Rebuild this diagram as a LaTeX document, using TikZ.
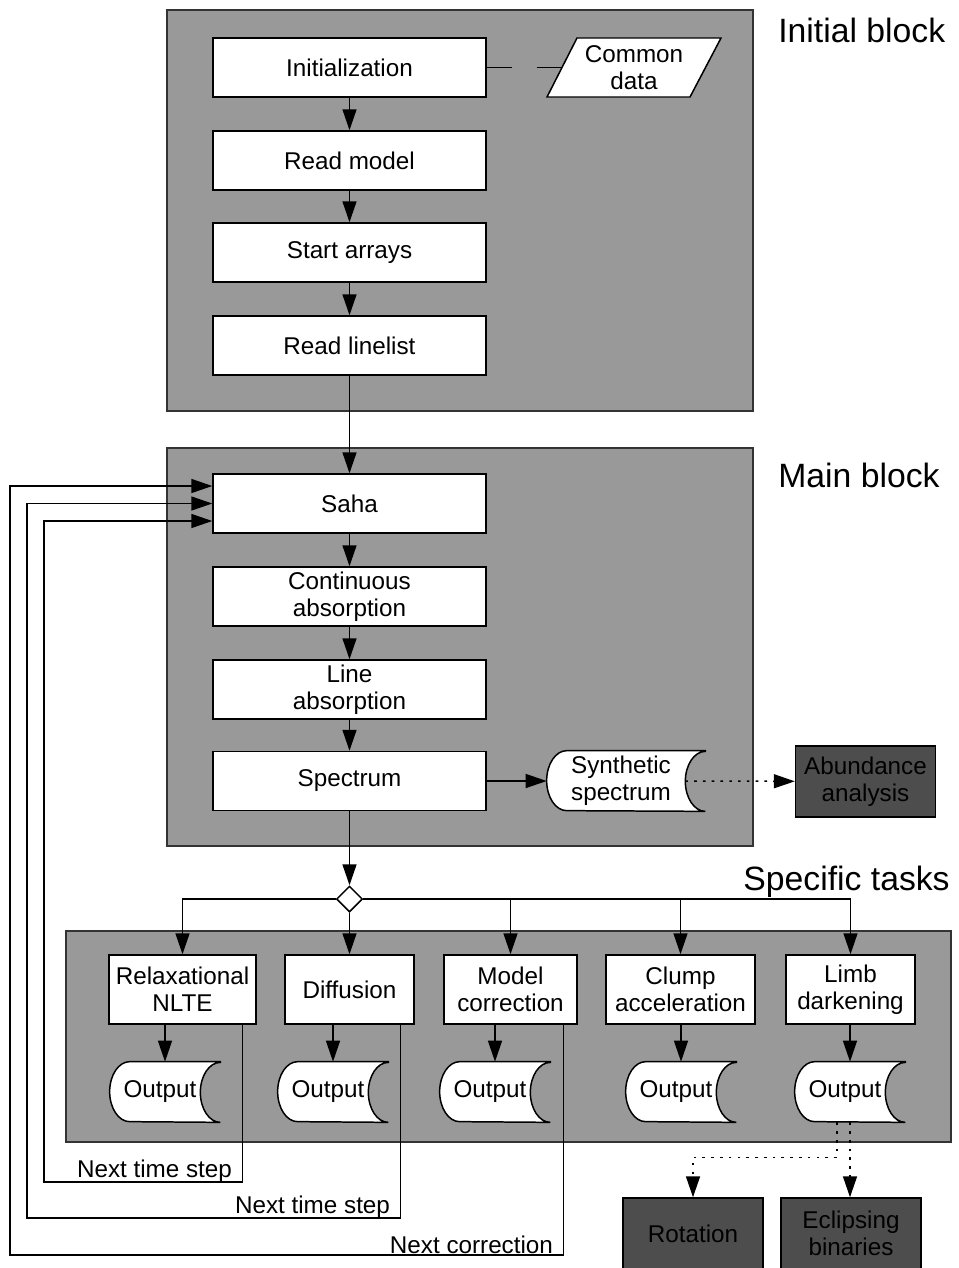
\documentclass[tikz,border=0pt]{standalone}
\usepackage{fontspec}
\setmainfont{Liberation Sans}
\usetikzlibrary{arrows.meta}
\usetikzlibrary{shapes.geometric}
\usetikzlibrary{calc}
\definecolor{blockgray}{HTML}{999999}
\definecolor{darkbox}{HTML}{4D4D4D}
\newcommand{\boxfont}{\fontsize{13.8}{15.4}\selectfont}
\newcommand{\titlefont}{\fontsize{19.2}{22}\selectfont}
\tikzset{
  block/.style = {draw=black!80, fill=blockgray, line width=0.7pt},
  proc/.style = {draw, fill=white, line width=0.85pt, align=center, font=\boxfont,
    minimum width=5.46cm, minimum height=1.18cm, inner sep=0},
  task/.style = {proc, minimum height=1.38cm},
  result/.style = {draw, fill=darkbox, line width=0.85pt, align=center, font=\boxfont,
    minimum width=2.8cm, minimum height=1.42cm, inner sep=0},
  arr/.style = {line width=0.85pt, -{Triangle[length=0.42cm, width=0.28cm]}},
  dotarr/.style = {arr, dash pattern=on 1.5pt off 3.5pt},
  title/.style = {font=\titlefont, inner sep=0},
  note/.style = {font=\boxfont, inner sep=2pt}
}
% stored data symbol: #1 name, #2 centre, #3 width, #4 text
\newcommand{\storenode}[4]{%
  \node[minimum width=#3, minimum height=1.2cm, inner sep=0] (#1) at (#2) {};
  \draw[fill=white, line width=0.85pt] (#1.north east) -- ([xshift=0.4cm]#1.north west)
    arc[start angle=90, end angle=270, x radius=0.4cm, y radius=0.6cm]
    -- (#1.south east)
    arc[start angle=270, end angle=90, x radius=0.4cm, y radius=0.6cm] -- cycle;
  \node[font=\boxfont, align=center, inner sep=0] (#1-text) at ([xshift=-0.1cm]#1.center) {#4};
}

\begin{document}
\begin{tikzpicture}[x=0.02cm, y=0.02cm]
    \useasboundingbox (0,0) rectangle (958,-1268);
    \clip (0,0) rectangle (958,-1268);

    % blocks
    \draw[block] (167,-10) rectangle (753,-411);
    \draw[block] (167,-448) rectangle (753,-846);
    \draw[block] (66,-931) rectangle (951,-1142);
    \node[title, anchor=west] (inittitle) at (778,-30) {Initial block};
    \node[title, anchor=west] (maintitle) at (778,-475) {Main block};
    \node[title, anchor=east] (tasktitle) at (950,-882) {Specific tasks};

    % initial block
    \node[proc] (init) at (349.5,-67.5) {Initialization};
    \node[proc] (readmodel) at (349.5,-160.5) {Read model};
    \node[proc] (startarr) at (349.5,-252.5) {Start arrays};
    \node[proc] (readline) at (349.5,-345.5) {Read linelist};
    \draw[fill=white, line width=0.85pt] (547,-97) -- (577,-38) -- (721,-38) -- (690,-97) -- cycle;
    \node[font=\boxfont, align=center, inner sep=0] (common) at (634,-67.5) {Common\\data};
    \coordinate (commonin) at (562,-67.5);
    \draw[line width=0.85pt, dash pattern=on 0.5cm off 0.5cm] (init) -- (commonin);
    \draw[arr] (init) -- (readmodel);
    \draw[arr] (readmodel) -- (startarr);
    \draw[arr] (startarr) -- (readline);

    % main block
    \node[proc] (saha) at (349.5,-503.5) {Saha};
    \node[proc] (contabs) at (349.5,-596.5) {Continuous\\absorption};
    \node[proc] (lineabs) at (349.5,-689.5) {Line\\absorption};
    \node[proc] (spectrum) at (349.5,-781) {Spectrum};
    \storenode{synth}{626,-781}{3.16cm}{Synthetic\\spectrum}
    \node[result] (abund) at (865.5,-781.5) {Abundance\\analysis};
    \draw[arr] (readline) -- (saha);
    \draw[arr] (saha) -- (contabs);
    \draw[arr] (contabs) -- (lineabs);
    \draw[arr] (lineabs) -- (spectrum);
    \draw[arr] (spectrum) -- (synth);
    \draw[dotarr] ([xshift=-0.4cm]synth.east) -- (abund);

    % specific tasks
    \node[draw, fill=white, diamond, minimum size=0.52cm, inner sep=0, line width=0.85pt] (split) at (349.5,-899) {};
    \node[task, minimum width=2.94cm] (relax) at (182.5,-989.5) {Relaxational\\NLTE};
    \node[task, minimum width=2.58cm] (diffusion) at (349.5,-989.5) {Diffusion};
    \node[task, minimum width=2.66cm] (modelcorr) at (510.5,-989.5) {Model\\correction};
    \node[task, minimum width=2.98cm] (clump) at (680.5,-989.5) {Clump\\acceleration};
    \node[task, minimum width=2.58cm] (limb) at (850.5,-989.5) {Limb\\darkening};
    \draw[arr] (spectrum) -- (split);
    \draw[arr] (split.west) -| (relax.north);
    \draw[arr] (split.south) -- (diffusion.north);
    \draw[arr] (split.east) -| (modelcorr.north);
    \draw[arr] (split.east) -| (clump.north);
    \draw[arr] (split.east) -| (limb.north);

    \foreach \n/\x in {1/165,2/333,3/495,4/681,5/850}{
      \storenode{out\n}{\x,-1092}{2.2cm}{Output}
    }
    \draw[arr] (out1.north |- relax.south) -- (out1.north);
    \draw[arr] (out2.north |- diffusion.south) -- (out2.north);
    \draw[arr] (out3.north |- modelcorr.south) -- (out3.north);
    \draw[arr] (out4.north |- clump.south) -- (out4.north);
    \draw[arr] (out5.north |- limb.south) -- (out5.north);

    % loops back to Saha
    \coordinate (turn1) at (44,-1182);
    \coordinate (turn2) at (27,-1218);
    \coordinate (turn3) at (10,-1255);
    \draw[arr] ([xshift=-0.28cm]relax.south east) |- node[note, pos=0.5, anchor=south east, xshift=-0.13cm, yshift=-0.1cm] {Next time step}
      (turn1) |- ([yshift=-0.35cm]saha.west);
    \draw[arr] ([xshift=-0.28cm]diffusion.south east) |- node[note, pos=0.5, anchor=south east, xshift=-0.13cm, yshift=-0.09cm] {Next time step}
      (turn2) |- (saha.west);
    \draw[arr] ([xshift=-0.28cm]modelcorr.south east) |- node[note, pos=0.5, anchor=south east, xshift=-0.13cm, yshift=-0.05cm] {Next correction}
      (turn3) |- ([yshift=0.35cm]saha.west);

    % further use of the limb darkening output
    \node[result] (rotation) at (693,-1233.5) {Rotation};
    \node[result] (eclipse) at (851,-1233.5) {Eclipsing\\binaries};
    \draw[dotarr] (out5.south) -- (out5.south |- eclipse.north);
    \draw[dotarr] ([xshift=-0.26cm]out5.south) |- ($(rotation.north)+(0,0.8cm)$) -- (rotation.north);
  \end{tikzpicture}
\end{document}
